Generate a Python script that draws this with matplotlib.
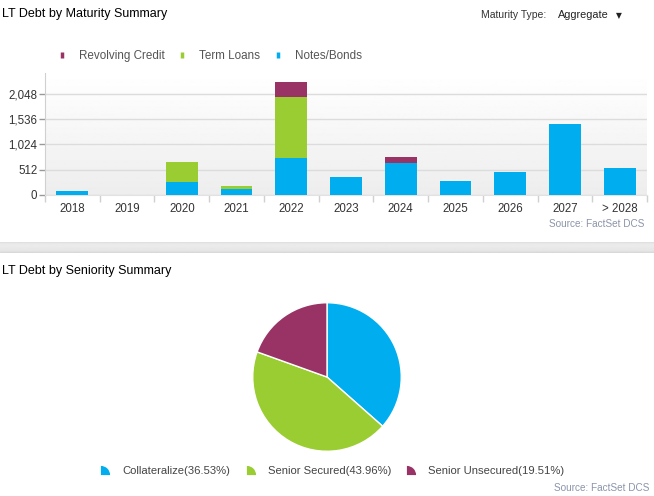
import numpy as np
import matplotlib
matplotlib.use("Agg")
import matplotlib.pyplot as plt
from matplotlib.lines import Line2D
from matplotlib.path import Path

plt.rcParams['font.family'] = ['Liberation Sans', 'DejaVu Sans']

# maturity data (USD mn)
years = ["2018", "2019", "2020", "2021", "2022", "2023", "2024", "2025", "2026", "2027", "> 2028"]
notes_bonds = [90, 0, 269, 128, 753, 370, 645, 276, 470, 1431, 551]
term_loans = [0, 0, 396, 47, 1223, 0, 0, 0, 0, 0, 0]
revolving = [0, 0, 0, 0, 308, 0, 128, 0, 0, 0, 0]
yticks = [0, 512, 1024, 1536, 2048]

# seniority data
seniority = ["Collateralize", "Senior Secured", "Senior Unsecured"]
seniority_pct = [36.53, 43.96, 19.51]

blue = "#00AEEF"
green = "#9ACD32"
maroon = "#993366"
src_col = "#8A94AA"

W, H = 654, 496
fig = plt.figure(figsize=(W / 100, H / 100), dpi=100)

def px(x, y, w, h):
    # pixel box (top-left origin) -> figure fraction
    return [x / W, 1 - (y + h) / H, w / W, h / H]

# ---------------- bar chart ----------------
fig.text(2 / W, 1 - 14 / H, "LT Debt by Maturity Summary", fontsize=9.0, color="#000000", va="center")
fig.text(481 / W, 1 - 15 / H, "Maturity Type:", fontsize=7.5, color="#333333", va="center")
fig.text(558 / W, 1 - 15 / H, "Aggregate", fontsize=7.8, color="#222222", va="center")
fig.text(619 / W, 1 - 16 / H, "\u25bc", fontsize=5.5, color="#222222", va="center", ha="center",
         family=['DejaVu Sans'])

ax = fig.add_axes(px(45, 72.7, 602, 122.3))
x = np.arange(len(years))
nb = np.array(notes_bonds)
tl = np.array(term_loans)
rc = np.array(revolving)
bw = 0.58
ax.bar(x, nb, width=bw, color=blue, zorder=3, label="Notes/Bonds")
ax.bar(x, tl, width=bw, bottom=nb, color=green, zorder=3, label="Term Loans")
ax.bar(x, rc, width=bw, bottom=nb + tl, color=maroon, zorder=3, label="Revolving Credit")

ax.set_yticks(yticks)
ax.set_yticklabels([f"{v:,}" for v in yticks])
ax.set_xticks(x)
ax.set_xticklabels(years)
ax.set_xticks(np.arange(len(years) + 1) - 0.5, minor=True)
ax.tick_params(axis="x", which="major", length=0, pad=6, labelsize=8.3, labelcolor="#333333")
ax.tick_params(axis="x", which="minor", length=5, color="#d0d0d0", width=1)
ax.tick_params(axis="y", length=4, width=1, color="#999999", pad=1.5, labelsize=8.3, labelcolor="#333333")
ax.grid(axis="y", color="#dcdcdc", lw=1, zorder=1)
for s in ["top", "right"]:
    ax.spines[s].set_visible(False)
ax.spines["left"].set_color("#d0d0d0")
ax.spines["bottom"].set_color("#e2e2e2")

# light vertical gradient behind bars
grad = np.linspace(1.0, 0.93, 100).reshape(-1, 1)
ax.imshow(grad, cmap="gray", vmin=0, vmax=1, aspect="auto", extent=[0, 1, 0, 1],
          transform=ax.transAxes, zorder=0)
ax.set_xlim(-0.5, len(years) - 0.5)
ax.set_ylim(0, 2470)

bar_handles = [Line2D([], [], ls="none", marker="|", markersize=4.5, markeredgewidth=2.5, color=c)
               for c in [maroon, green, blue]]
fig.legend(bar_handles, ["Revolving Credit", "Term Loans", "Notes/Bonds"], ncol=3, frameon=False,
           loc="center left", bbox_to_anchor=(56.2 / W, 1 - 56 / H), borderaxespad=0, borderpad=0,
           handlelength=1.0, handletextpad=0.96, columnspacing=1.0,
           prop={"size": 8.4}, labelcolor="#555555")

fig.text(644 / W, 1 - 224 / H, "Source: FactSet DCS", fontsize=7.2, color=src_col, ha="right", va="center")

# separator band
sep = fig.add_axes(px(0, 242, 654, 11))
shade = np.array([0.80, 0.88, 0.91, 0.92, 0.92, 0.92, 0.91, 0.91, 0.90, 0.88, 0.85]).reshape(-1, 1)
sep.imshow(shade, cmap="gray", vmin=0, vmax=1, aspect="auto", extent=[0, 1, 0, 1])
sep.axis("off")

# ---------------- pie chart ----------------
fig.text(2 / W, 1 - 271 / H, "LT Debt by Seniority Summary", fontsize=9.0, color="#000000", va="center")

pax = fig.add_axes(px(252, 302, 150, 150))
wedges, _ = pax.pie(seniority_pct, colors=[blue, green, maroon], startangle=90, counterclock=False,
                    wedgeprops={"edgecolor": "white", "linewidth": 1})
pax.set_xlim(-1.01, 1.01)
pax.set_ylim(-1.01, 1.01)

# quarter-circle legend icon, centred on its own box
wp = Path.wedge(0, 90)
wedge_icon = Path(wp.vertices - 0.5, wp.codes)
pie_handles = [Line2D([], [], ls="none", marker=wedge_icon, markersize=6.6, color=c, markeredgewidth=0)
               for c in [blue, green, maroon]]
pie_labels = [f"{n}({p:.2f}%)" for n, p in zip(seniority, seniority_pct)]
fig.legend(pie_handles, pie_labels, ncol=3, frameon=False,
           loc="center left", bbox_to_anchor=(98.7 / W, 1 - 470.5 / H), borderaxespad=0, borderpad=0,
           handlelength=1.2, handletextpad=0.9, columnspacing=1.22,
           prop={"size": 8.1}, labelcolor="#444444")

fig.text(649 / W, 1 - 488 / H, "Source: FactSet DCS", fontsize=7.2, color=src_col, ha="right", va="center")

fig.savefig("out.png", dpi=100)
